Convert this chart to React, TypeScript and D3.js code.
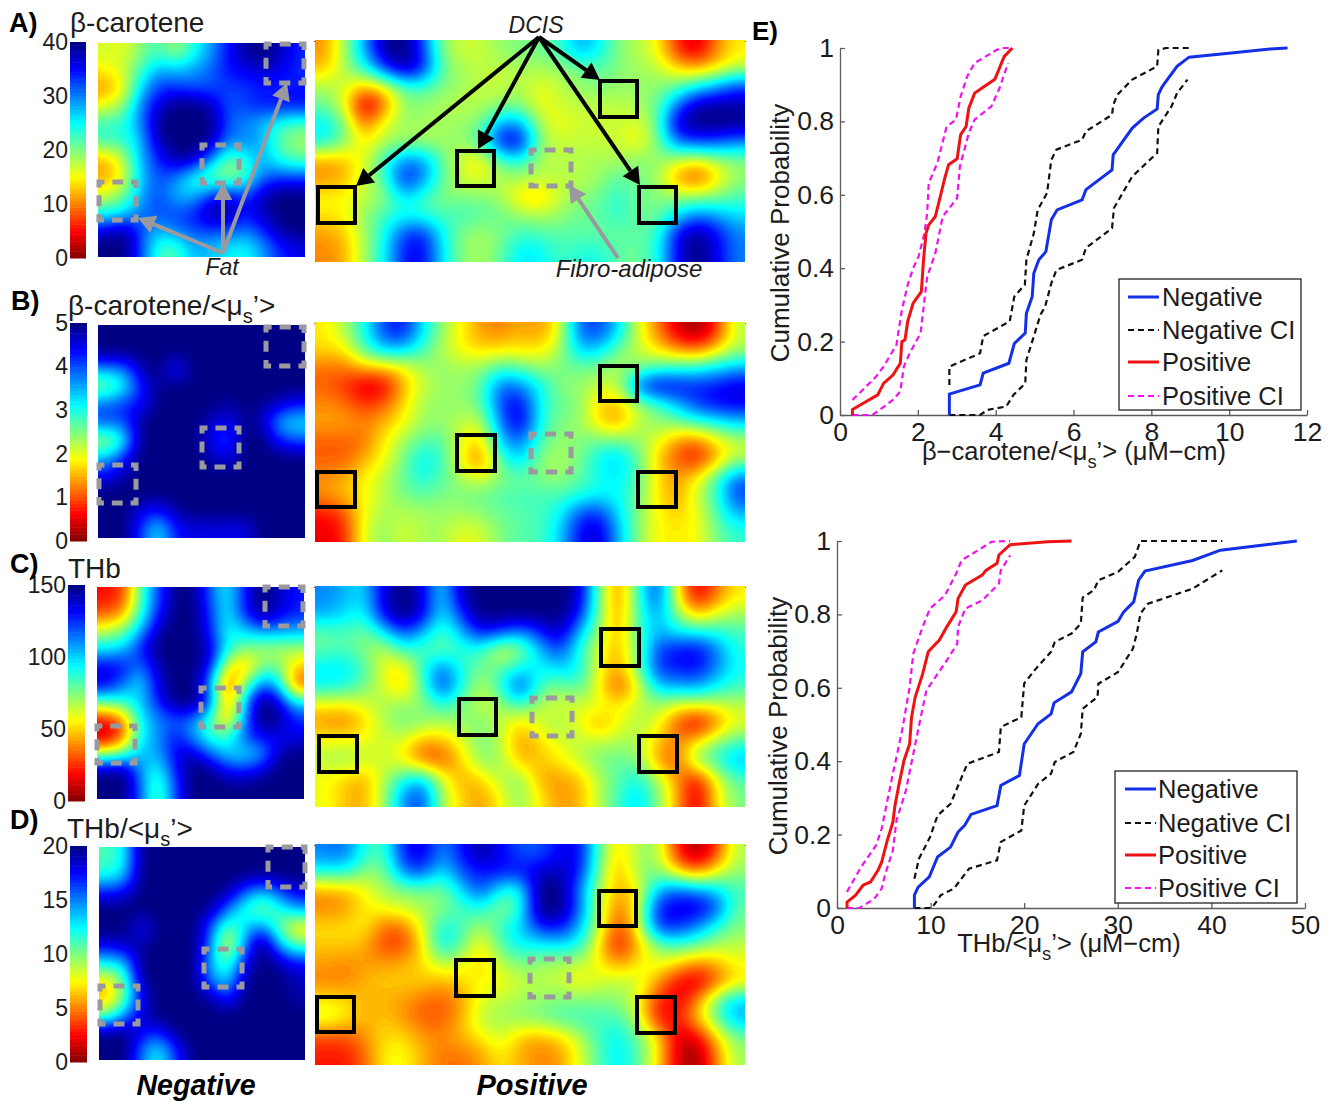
import React, { useEffect, useRef } from 'react';
import * as d3 from 'd3';

// colour levels, 0 = dark red ... 10 = navy (fraction of each colorbar x 10)
const aNeg = [
  [4.2, 4, 5, 5.6, 4.8, 6, 7.2, 8.6, 9.6, 10, 9.5, 8.5],
  [3.7, 4.4, 5.6, 7, 6.8, 7.2, 7.8, 8.6, 9, 9.2, 9, 8.4],
  [2.9, 4, 6.6, 8.2, 8.2, 8, 8, 8.2, 8.2, 8.6, 8.4, 8.6],
  [4, 5, 7.5, 9, 10, 10, 9.5, 8, 8.2, 8.5, 8.6, 8.6],
  [5.6, 6, 7.5, 9.8, 10, 10, 10, 8, 7.4, 7, 6, 5.6],
  [5.6, 5.8, 7, 9.4, 10, 10, 9.6, 7.5, 7.5, 7, 5.5, 4.8],
  [3.2, 4.6, 7, 8.5, 9.6, 9.4, 7.6, 5.4, 6, 7, 6, 5.4],
  [3, 4.2, 6.8, 8, 7.6, 6.2, 5.4, 4.8, 5.6, 7.6, 8, 8],
  [4.2, 5.2, 7, 8, 7, 6.8, 8, 8.6, 8, 9.2, 10, 10],
  [6, 6.5, 7.6, 8, 8, 8.4, 9.6, 9.8, 8.6, 9.4, 10, 10],
  [9, 9.6, 8, 7, 7.6, 8, 8.2, 8, 7.6, 8.4, 9.6, 10],
  [10, 10, 8, 5.8, 5.6, 7, 6.8, 6.5, 6.2, 7.2, 8.4, 9],
];
const aPos = [
  [2.8, 4.6, 7, 9.5, 10, 8.2, 5, 4.3, 4.3, 4.8, 5, 5.2, 5.6, 7, 6.3, 5, 4.5, 3.8, 1.8, 0.9, 2.5, 3.6],
  [3.2, 4.6, 5.9, 8, 9.5, 8.5, 5.4, 4.6, 4.4, 4.4, 4.6, 4.6, 4.8, 5.2, 5.4, 5, 4.6, 4.4, 3.4, 3, 3.6, 4.4],
  [4.5, 4.2, 3.2, 4, 5.6, 5.8, 5, 4.7, 4.4, 4.3, 4.6, 4, 4.4, 4.8, 5, 4.8, 4.8, 4.9, 5.3, 6.2, 7, 8],
  [5.2, 4, 1, 2.3, 4.8, 4.8, 4.6, 4.4, 4.5, 4.9, 5, 3.9, 4.2, 4.4, 4.4, 4.4, 4.6, 5.2, 7.5, 9.3, 9.6, 9.5],
  [6.2, 5, 2.3, 4, 4.7, 4.7, 4.6, 4.8, 5.1, 7, 7, 4.6, 3.9, 4.2, 4.2, 4.3, 4.1, 5.3, 9, 9.8, 9.9, 9.8],
  [6, 5, 3.6, 4.5, 4.8, 4.7, 4.7, 4.8, 5.6, 8.5, 8.7, 5, 4.3, 4.4, 4.3, 4.3, 3.8, 5, 7.5, 8, 8, 7.5],
  [3, 3.2, 4, 5.6, 7.2, 7.2, 5.3, 4.2, 3.8, 5.5, 6, 4.6, 4.4, 4.5, 4.6, 4.6, 4.9, 4.8, 4.4, 3.9, 4.6, 5],
  [2.8, 3.1, 4.3, 5.5, 8.3, 7.4, 5.4, 4.3, 4, 4.6, 4.6, 4.4, 4.4, 4.5, 4.7, 5.4, 5, 4.7, 3, 2.2, 3.5, 4.8],
  [3.7, 3.7, 4.4, 4.8, 6.5, 5.8, 5, 5, 5, 4.6, 3.6, 3.3, 4.3, 4.8, 5.2, 5.8, 5.2, 5, 4.8, 4.9, 5.1, 5.5],
  [3.5, 3.7, 4.8, 5.6, 6.2, 6, 5.6, 5.6, 5.3, 5.2, 4.8, 4.6, 4.8, 5.2, 5.3, 5.8, 5.2, 5.2, 6.5, 7.5, 7.2, 6.6],
  [2.8, 3.2, 4.6, 6, 8, 8.4, 6.3, 5, 4.7, 5, 5.7, 5.5, 5.4, 5.4, 5.3, 5.3, 5.4, 5.8, 8.6, 9.8, 8.8, 7.5],
  [2.6, 3, 4.6, 6.2, 8.4, 8.8, 6.5, 5, 4.6, 5.3, 6.4, 6.3, 5.6, 5.9, 6, 5.4, 5.2, 6, 8.7, 10, 9, 7.6],
];
const bNeg = [
  [10, 10, 10, 10, 10, 10, 10, 10, 10, 10, 10, 10],
  [10, 10, 10, 10, 10, 10, 10, 10, 10, 10, 10, 10],
  [7.2, 7.6, 9.4, 10, 8.6, 10, 10, 10, 10, 10, 10, 10],
  [5.2, 6.4, 8.6, 9.8, 10, 10, 10, 10, 10, 10, 10, 10],
  [7.8, 8.4, 8.8, 10, 10, 10, 10, 9.6, 10, 9.8, 9.2, 8.6],
  [7.8, 8, 9.8, 10, 10, 10, 9.4, 8.8, 9.8, 9.4, 7.2, 6.6],
  [4.8, 6.4, 10, 10, 10, 10, 9, 8.2, 10, 10, 8.6, 8],
  [7, 8.6, 10, 10, 10, 10, 9.6, 9, 10, 10, 10, 10],
  [8.8, 9.6, 10, 10, 10, 10, 10, 10, 10, 10, 10, 10],
  [10, 10, 10, 10, 10, 10, 10, 10, 10, 10, 10, 10],
  [10, 10, 9, 8.6, 9.6, 10, 10, 10, 10, 10, 10, 10],
  [10, 10, 8.2, 6.6, 8.6, 9, 9, 9, 9, 10, 10, 10],
];
const bPos = [
  [3.6, 4.5, 6, 8, 8.5, 6.5, 4.8, 3.7, 2.8, 2.6, 3, 2.8, 4, 7.6, 8, 6.6, 4.2, 2.6, 1, 0.4, 1.6, 4.3],
  [3.4, 3.6, 5.4, 6.6, 6.6, 5.6, 4.5, 3.8, 3.4, 3.6, 3.6, 3.6, 4.6, 6.6, 6.6, 5.2, 4.4, 3.6, 2.8, 2.4, 3.4, 4.6],
  [2.4, 2.4, 3, 3.2, 3.8, 4.6, 4.8, 4.6, 4.8, 5.6, 5.4, 4.8, 5, 5.2, 5, 4.6, 5, 5.6, 5.8, 6, 6.4, 7],
  [2.2, 1.8, 1, 1.2, 3, 4.3, 4.7, 4.8, 5.4, 7.6, 7.4, 6.2, 5, 4.8, 4.4, 4.3, 7.6, 8.8, 8.6, 8.4, 8.6, 9],
  [2.6, 2.4, 1.8, 2.2, 3.4, 4.6, 4.8, 4.8, 5.3, 8, 8.8, 6.2, 5.2, 5, 3.4, 3.2, 4.6, 5.6, 6.8, 8, 8.6, 8.8],
  [2.8, 2.8, 2.5, 3, 3.8, 4.7, 4.8, 4.4, 4.4, 7.4, 9, 6.2, 5, 4.8, 3.6, 3, 4.4, 4.8, 5, 5.6, 6, 6.6],
  [2.2, 2.2, 2.4, 3.6, 4.6, 5.4, 5.4, 4, 3.4, 6.8, 7.6, 5.6, 4.8, 5, 5.2, 5.2, 4.8, 4, 2.8, 2.4, 3.6, 4.4],
  [2.2, 2.2, 3, 3.8, 5, 6.3, 5.6, 3.8, 2.6, 5.5, 6.6, 5, 4.6, 5, 6.2, 6.6, 5.4, 3.4, 2.2, 1.6, 3, 4.6],
  [2.6, 3, 3.6, 4.4, 5.2, 6, 5.4, 4.6, 4, 5, 5.3, 5, 4.8, 5.4, 6, 6.4, 5.4, 3.6, 2.8, 3.6, 5.4, 7.5],
  [2.6, 3, 3.7, 4.4, 5, 5.3, 5, 5, 5.2, 5.4, 5.6, 5.6, 5.6, 6, 6.4, 6.2, 5.2, 3.6, 2.8, 4.2, 5.6, 8],
  [1.4, 2, 3.8, 4.6, 4.4, 4.6, 4.7, 4.6, 4.8, 5.2, 5.4, 5.6, 6.2, 8, 8.4, 6.6, 5, 3.8, 3.4, 3.8, 5.4, 6.8],
  [1.1, 1.6, 4, 4.8, 4.2, 4.6, 4.6, 4, 4.2, 5, 5.4, 5.6, 6.6, 8.6, 9.2, 7, 5, 3.8, 3.6, 3.8, 5, 5.8],
];
const cNeg = [
  [1.4, 2, 5.4, 8, 9.8, 10, 8, 6.4, 8.4, 10, 9.4, 8.6],
  [2.2, 3, 5.8, 8.4, 10, 10, 8.4, 6.4, 8.2, 9.8, 9, 8.4],
  [4.4, 5.2, 7, 9.4, 10, 10, 8.6, 6.2, 6.6, 7.2, 7.2, 7],
  [6.4, 6.8, 8.4, 10, 10, 10, 9.2, 6.2, 5, 4.8, 4.6, 4.6],
  [8.8, 8.6, 7.6, 9.4, 10, 10, 8.8, 4.2, 3.2, 5, 5.2, 3.4],
  [8.8, 7.6, 6.6, 9, 10, 10, 7.4, 2.4, 4.6, 7.4, 6.6, 2.4],
  [5.4, 5.8, 6.8, 8.4, 10, 10, 8.2, 2.8, 6.5, 10, 9, 6.4],
  [1.6, 2.8, 6.2, 7.4, 8, 7.6, 5.8, 3.2, 7, 10, 9.8, 8.4],
  [1, 2.4, 6.2, 7.2, 8.6, 7.4, 6, 5.8, 7.8, 8.8, 8.8, 9],
  [5, 5.8, 7, 7, 8.8, 9.4, 8, 6.8, 6.6, 7.2, 9.4, 10],
  [10, 10, 7.4, 6, 8.4, 10, 10, 9, 8.8, 9.4, 10, 10],
  [10, 10, 7.8, 5.4, 8, 10, 10, 10, 10, 10, 10, 10],
];
const cPos = [
  [7.4, 7, 6.6, 9, 10, 9, 6.6, 9.4, 10, 10, 10, 10, 10, 9.2, 5.4, 2.6, 5.6, 8, 4, 1.2, 2.4, 3.6],
  [7, 6.6, 6.2, 8.8, 10, 9, 6.4, 8.4, 10, 10, 10, 10, 10, 8.6, 5.2, 2.8, 5.4, 7.2, 5, 3.2, 4, 4.6],
  [5.4, 5.6, 5.2, 6.4, 8, 7, 5.6, 7, 8.6, 8, 7.4, 8.4, 9.4, 7, 4.8, 3, 5.4, 7, 6.4, 6.2, 6, 5.6],
  [5.4, 5.6, 5, 4.4, 5.6, 5.6, 5.4, 5.8, 5.8, 4.2, 5, 6.8, 8, 6, 4.2, 3, 5, 8, 8.6, 8.8, 7.6, 6],
  [6.4, 6.4, 5.6, 4, 3.6, 5.8, 7.6, 6, 5.2, 5.4, 6.4, 6.2, 6.6, 6.2, 4, 2.8, 5, 8, 8.4, 8.6, 7.4, 6.2],
  [6, 5.8, 5, 4.2, 3.4, 5.4, 8, 6, 4.4, 5.8, 8, 5.6, 5, 5.4, 3.8, 2.2, 3.8, 6.6, 6.8, 7, 6.2, 5.6],
  [3.6, 3.6, 4, 4.6, 4.8, 4.8, 5.8, 5, 4.4, 4.6, 5.6, 4.4, 4.2, 4.2, 4, 3.6, 4.4, 4.6, 4, 3.8, 4, 4.4],
  [2.8, 2.6, 3.4, 4.4, 5, 4.8, 4.4, 4.8, 5, 4.4, 3.4, 4.2, 4.6, 4, 3, 3.8, 4.4, 4, 2.2, 1.2, 2.6, 4],
  [4, 4, 4, 4.2, 4, 2.8, 3, 3.9, 5, 4.4, 2.8, 3.4, 4, 4.4, 4.4, 4.6, 4.6, 3.2, 2.6, 3.6, 4.8, 5.6],
  [4.4, 4.6, 4.2, 4.2, 3.8, 2.6, 2.2, 3.4, 4.8, 4.6, 3.2, 3.2, 3.6, 4.2, 5, 5.2, 5, 3, 2.2, 4.6, 5.6, 6.8],
  [3.8, 3.4, 3, 4.4, 6, 6.6, 4.2, 3, 3.4, 4.4, 4.8, 3, 2.8, 3.2, 4.4, 5.4, 6, 4.6, 2.8, 1.4, 3.8, 5.4],
  [3.9, 3.2, 3, 4.6, 7.2, 8, 4.6, 3.4, 2.8, 3.8, 4.8, 3.6, 2.8, 3, 4.4, 5.6, 6.6, 5, 3, 1, 3.4, 5],
];
const dNeg = [
  [5.6, 6.4, 10, 10, 10, 10, 10, 10, 10, 10, 10, 10],
  [6, 6.8, 10, 10, 10, 10, 10, 10, 10, 10, 10, 10],
  [8.4, 8.8, 10, 10, 10, 10, 10, 9.6, 8, 7, 8, 9],
  [10, 10, 10, 10, 10, 10, 9.6, 7.6, 6, 5.2, 6, 7],
  [10, 10, 8.8, 10, 10, 10, 8, 5.4, 6.6, 7.4, 5.4, 3.8],
  [9, 9.4, 9.6, 10, 10, 10, 7.6, 4, 7.4, 10, 7, 5.4],
  [6.4, 7, 10, 10, 10, 10, 7, 5.6, 8.6, 10, 9.4, 8.6],
  [3.8, 5.6, 9.6, 10, 10, 10, 7.6, 6.6, 9.6, 10, 10, 9.4],
  [3.2, 5.4, 8.8, 10, 10, 10, 9.6, 8.4, 10, 10, 10, 9.6],
  [5.4, 7.4, 9.2, 10, 10, 10, 10, 10, 10, 10, 10, 10],
  [10, 10, 8.8, 8.4, 9.8, 10, 10, 10, 10, 10, 10, 10],
  [10, 10, 7.6, 6.4, 8.4, 10, 10, 10, 10, 10, 10, 10],
];
const dPos = [
  [7.4, 7.6, 6, 5.6, 8.4, 9, 7.4, 8.6, 9.6, 8.8, 8, 8, 8.8, 8.8, 5.6, 3.4, 4.6, 4.6, 1.8, 0.5, 1.8, 4.4],
  [6, 6, 5, 5, 7.4, 8, 6.4, 8, 8.6, 8.6, 8.6, 9.2, 9.4, 8.6, 5.2, 3, 4.6, 5, 3.6, 2.6, 3.8, 4.8],
  [3, 3.2, 3.8, 4.6, 5, 5.2, 5.2, 6.6, 8, 6.2, 6.2, 10, 10, 7.6, 4.8, 3, 3.8, 6.8, 7.6, 7.2, 6.6, 5.6],
  [2.6, 2.8, 3.6, 3.8, 4.2, 4.6, 5, 5.6, 6, 5, 6, 10, 10, 7.8, 4.6, 2.4, 4, 8.2, 9, 9, 8, 5.4],
  [3.4, 3.4, 3.6, 2.4, 2.4, 4, 6, 5.6, 4.6, 5.8, 6.6, 8.4, 8.6, 7, 4.4, 2, 3.8, 8, 8.2, 7.4, 6, 5],
  [3.2, 3.2, 3, 2, 2, 3.6, 6.2, 5.2, 3.7, 5.4, 6.2, 6.2, 6.4, 6, 3.6, 1.5, 3, 5, 5.6, 5.2, 4.6, 4.4],
  [2.8, 2.6, 2.8, 2.8, 3, 3.4, 4.4, 4, 3.4, 4.4, 5, 4.8, 4.6, 4.4, 3.8, 2.8, 3.6, 4, 3.4, 2.6, 3, 3.8],
  [2.6, 2.6, 3, 3.2, 3.2, 3.2, 3, 3.4, 3.8, 3.8, 4.4, 4.4, 4.4, 3.8, 4.2, 4.4, 4.2, 2.8, 1.4, 1, 2.2, 3.6],
  [3.6, 3.4, 3, 3, 2.8, 2.4, 2.2, 2.8, 4, 4.4, 4.6, 4.8, 5, 5, 5, 4.8, 4, 1.8, 1.2, 2.4, 5, 6.6],
  [4, 3.6, 3, 3.2, 2.8, 2.2, 2.2, 3, 4.4, 4.6, 4.8, 5, 5.4, 5.6, 5.6, 5.6, 4.4, 1.6, 1.4, 3, 5, 6.8],
  [2, 2, 2.6, 3.4, 3.4, 2.8, 2.6, 3, 3.6, 4.2, 3.2, 3, 3.4, 4.4, 5.6, 6.2, 5.2, 3.6, 1, 1, 3.2, 5],
  [1.5, 1.5, 2.2, 3.6, 3.8, 3, 2.4, 2.4, 2.8, 3.6, 3, 2.6, 2.8, 4, 5.4, 6.4, 5.4, 3.6, 1, 0.3, 2.4, 4.6],
];

// CDF curves, top plot (beta-carotene/mus)
const bcNeg = [[2.81, 0], [2.81, 0.057], [3.6, 0.082], [3.68, 0.114], [4.34, 0.141], [4.48, 0.195], [4.76, 0.223], [4.79, 0.277], [4.94, 0.323], [4.98, 0.386], [5.11, 0.423], [5.29, 0.445], [5.43, 0.532], [5.58, 0.559], [6.22, 0.586], [6.32, 0.614], [6.99, 0.668], [7.02, 0.709], [7.51, 0.782], [7.8, 0.809], [8.15, 0.834], [8.18, 0.873], [8.28, 0.895], [8.66, 0.95], [8.97, 0.975], [9.99, 0.986], [11.05, 0.997], [11.5, 1]];
const bcNegHi = [[2.81, 0.082], [2.81, 0.132], [3.6, 0.168], [3.68, 0.215], [4.36, 0.255], [4.48, 0.323], [4.75, 0.355], [4.79, 0.423], [4.98, 0.495], [5.08, 0.559], [5.32, 0.605], [5.43, 0.695], [5.56, 0.723], [6.22, 0.75], [6.32, 0.773], [6.99, 0.818], [7.02, 0.845], [7.13, 0.873], [7.51, 0.914], [8.15, 0.95], [8.18, 0.994], [8.37, 1], [8.97, 1]];
const bcNegLo = [[2.81, 0], [3.6, 0], [3.79, 0.014], [4.27, 0.023], [4.46, 0.055], [4.76, 0.086], [4.79, 0.15], [4.98, 0.214], [5.15, 0.273], [5.27, 0.295], [5.43, 0.359], [5.56, 0.395], [6.22, 0.423], [6.32, 0.455], [6.99, 0.509], [7.04, 0.564], [7.51, 0.65], [8.15, 0.714], [8.18, 0.786], [8.52, 0.841], [8.66, 0.877], [8.93, 0.914]];
const bcPos = [[0.32, 0], [0.32, 0.015], [0.97, 0.055], [1.12, 0.086], [1.36, 0.109], [1.55, 0.141], [1.59, 0.2], [1.67, 0.205], [1.74, 0.255], [1.88, 0.305], [2.09, 0.336], [2.15, 0.427], [2.21, 0.495], [2.28, 0.518], [2.45, 0.541], [2.6, 0.605], [2.69, 0.645], [2.79, 0.682], [3.01, 0.698], [3.1, 0.764], [3.24, 0.786], [3.31, 0.836], [3.46, 0.877], [3.65, 0.891], [3.98, 0.915], [4.22, 0.977], [4.43, 1]];
const bcPosHi = [[0.32, 0.041], [0.93, 0.105], [1.12, 0.132], [1.45, 0.191], [1.59, 0.286], [1.74, 0.355], [1.88, 0.4], [2.02, 0.432], [2.17, 0.495], [2.24, 0.55], [2.28, 0.632], [2.5, 0.686], [2.74, 0.786], [2.98, 0.805], [3.1, 0.868], [3.27, 0.923], [3.46, 0.959], [4.03, 0.995], [4.17, 1], [4.43, 1]];
const bcPosLo = [[0.32, 0], [0.83, 0], [1.02, 0.014], [1.36, 0.041], [1.55, 0.064], [1.64, 0.132], [1.79, 0.168], [2.07, 0.223], [2.24, 0.377], [2.45, 0.441], [2.64, 0.541], [3.01, 0.591], [3.08, 0.677], [3.31, 0.768], [3.46, 0.805], [3.89, 0.841], [4.1, 0.891], [4.32, 0.959]];

// CDF curves, bottom plot (THb/mus)
const thbNeg = [[8.27, 0], [8.27, 0.035], [8.67, 0.057], [9.86, 0.085], [10.74, 0.139], [12.13, 0.166], [12.93, 0.207], [13.64, 0.225], [14.32, 0.255], [17.1, 0.279], [17.5, 0.334], [19.49, 0.361], [20, 0.447], [21.48, 0.502], [22.87, 0.529], [23.19, 0.559], [25.06, 0.589], [26.05, 0.639], [26.25, 0.698], [27.65, 0.725], [27.92, 0.752], [30.03, 0.781], [30.63, 0.807], [31.7, 0.834], [32.22, 0.893], [32.9, 0.918], [37.99, 0.947], [40.97, 0.975], [45.15, 0.988], [49.13, 1]];
const thbNegHi = [[8.27, 0.08], [8.75, 0.134], [9.94, 0.193], [10.74, 0.252], [12.13, 0.284], [13.92, 0.393], [17.3, 0.425], [17.5, 0.493], [19.69, 0.52], [20, 0.612], [21.28, 0.653], [22.87, 0.698], [23.27, 0.725], [25.06, 0.748], [26.05, 0.775], [26.25, 0.846], [27.45, 0.866], [27.92, 0.893], [30.03, 0.916], [31.82, 0.957], [32.42, 1], [41.17, 1]];
const thbNegLo = [[8.27, 0], [10.14, 0], [11.09, 0.035], [12.49, 0.053], [14.1, 0.107], [17.1, 0.13], [17.5, 0.18], [19.69, 0.211], [20, 0.279], [21.48, 0.338], [22.87, 0.366], [23.27, 0.398], [25.26, 0.425], [26.05, 0.475], [26.25, 0.543], [27.84, 0.575], [27.92, 0.611], [30.03, 0.643], [31.62, 0.707], [32.02, 0.747], [32.42, 0.802], [33.22, 0.829], [37.99, 0.87], [41.17, 0.92]];
const thbPos = [[1.07, 0], [1.07, 0.016], [1.99, 0.035], [2.78, 0.062], [3.58, 0.071], [4.38, 0.103], [4.77, 0.125], [5.37, 0.184], [5.97, 0.234], [6.17, 0.275], [6.56, 0.329], [7.16, 0.402], [7.76, 0.447], [7.96, 0.519], [8.35, 0.574], [9.15, 0.638], [9.75, 0.698], [10.94, 0.73], [11.73, 0.766], [12.73, 0.807], [12.93, 0.843], [13.72, 0.88], [15.51, 0.907], [15.91, 0.92], [17.1, 0.939], [17.3, 0.962], [18.5, 0.99], [22.48, 0.998], [25.06, 1]];
const thbPosHi = [[1.07, 0.044], [2.58, 0.112], [4.18, 0.171], [4.77, 0.216], [5.97, 0.366], [6.96, 0.484], [7.76, 0.602], [8.15, 0.693], [9.15, 0.766], [9.94, 0.816], [11.53, 0.852], [12.73, 0.911], [13.32, 0.948], [14.52, 0.966], [16.51, 0.998], [18.5, 1]];
const thbPosLo = [[1.07, 0], [2.39, 0], [3.98, 0.025], [4.77, 0.053], [5.17, 0.094], [5.97, 0.157], [6.36, 0.239], [7.36, 0.32], [8.15, 0.42], [8.95, 0.52], [9.55, 0.593], [11.73, 0.675], [12.85, 0.72], [12.93, 0.766], [13.72, 0.816], [15.51, 0.838], [17.3, 0.884], [17.5, 0.92], [18.5, 0.961]];

const legendLabels = ['Negative', 'Negative CI', 'Positive', 'Positive CI'];
const FONT = '"Liberation Sans", Arial, sans-serif';
const TEXT = '#1c1c1c';

const jet = d3.scaleLinear<string>()
  .domain([0, 1.25, 3.75, 6.25, 8.75, 10])
  .range(['#800000', '#ff0000', '#ffff00', '#00ffff', '#0000ff', '#000080'])
  .clamp(true);

// one row of the figure: colorbar, negative map, positive map, and their squares
const rows = [
  {
    letter: 'A)', letterPos: [9, 32], title: ['β-carotene'], titlePos: [70, 32], max: 40, ticks: [0, 10, 20, 30, 40],
    bar: [70, 42, 86, 258], neg: [98.5, 43, 305, 257], pos: [315, 40, 745, 262], negGrid: aNeg, posGrid: aPos,
    negDash: [[99, 182, 136, 220], [202, 145, 239, 183], [266, 44, 304, 83]],
    solid: [[318, 187, 355, 223], [457, 151, 494, 186], [600, 81, 637, 117], [639, 187, 676, 223]],
    posDash: [531, 150, 571, 186],
  },
  {
    letter: 'B)', letterPos: [11, 310], title: ['β-carotene/<μ', 's', '’>'], titlePos: [68, 315], max: 5, ticks: [0, 1, 2, 3, 4, 5],
    bar: [70, 323, 87, 541], neg: [98.5, 325, 305, 538], pos: [315, 322, 745, 542], negGrid: bNeg, posGrid: bPos,
    negDash: [[99, 465, 136, 503], [202, 428, 239, 467], [266, 327, 304, 366]],
    solid: [[317, 472, 355, 507], [457, 435, 495, 471], [600, 366, 637, 401], [638, 472, 676, 507]],
    posDash: [531, 434, 571, 472],
  },
  {
    letter: 'C)', letterPos: [10, 573], title: ['THb'], titlePos: [68, 578], max: 150, ticks: [0, 50, 100, 150],
    bar: [68, 585, 85, 801], neg: [97.5, 587, 304, 799], pos: [315, 586, 745, 807], negGrid: cNeg, posGrid: cPos,
    negDash: [[97, 726, 135, 763], [201, 688, 239, 727], [265, 587, 303, 626]],
    solid: [[319, 736, 357, 772], [459, 699, 496, 735], [601, 629, 639, 666], [639, 736, 677, 772]],
    posDash: [532, 698, 572, 736],
  },
  {
    letter: 'D)', letterPos: [10, 829], title: ['THb/<μ', 's', '’>'], titlePos: [67, 838], max: 20, ticks: [0, 5, 10, 15, 20],
    bar: [70, 846, 87, 1062], neg: [99, 847, 305, 1060], pos: [315, 844, 745, 1065], negGrid: dNeg, posGrid: dPos,
    negDash: [[100, 986, 138, 1024], [204, 949, 242, 987], [268, 847, 305, 887]],
    solid: [[317, 997, 354, 1032], [456, 960, 494, 996], [599, 891, 636, 926], [637, 997, 675, 1033]],
    posDash: [530, 959, 569, 997],
  },
];

const plots = [
  {
    xMax: 12, xTicks: [0, 2, 4, 6, 8, 10, 12], box: [840, 48, 1307, 415], tickBase: 26, yPad: 6,
    series: [bcNegHi, bcNegLo, bcPosHi, bcPosLo, bcNeg, bcPos],
    label: ['β−carotene/<μ', 's', '’> (μM−cm)'], labelPos: [1074, 460], yLabelPos: [789, 233],
    legend: [1119, 279, 1301, 410], legendLine: [1128, 1159], legendText: 1162, legendY: [297, 330, 362, 396],
  },
  {
    xMax: 50, xTicks: [0, 10, 20, 30, 40, 50], box: [837, 541, 1305, 908], tickBase: 26, yPad: 6,
    series: [thbNegHi, thbNegLo, thbPosHi, thbPosLo, thbNeg, thbPos],
    label: ['THb/<μ', 's', '’> (μM−cm)'], labelPos: [1069, 952], yLabelPos: [787, 726],
    legend: [1115, 771, 1297, 903], legendLine: [1125, 1156], legendText: 1158, legendY: [789, 823, 855, 888],
  },
];

// black arrows (DCIS), grey arrows (Fat, Fibro-adipose)
const blackArrows = [[539, 37, 356, 186], [539, 37, 478, 149], [539, 37, 600, 80], [539, 37, 640, 185]];
const greyArrows = [[223, 253, 138, 218], [223, 253, 223, 183], [223, 253, 287, 83], [618, 258, 569, 185]];
const notes = [
  { text: 'DCIS', x: 536, y: 33, size: 23 },
  { text: 'Fat', x: 222, y: 275, size: 23 },
  { text: 'Fibro-adipose', x: 629, y: 277, size: 24 },
];

// smooth the coarse level grid so the contours come out round like the imaging maps
const upsample = (grid: number[][], k: number) => {
  const nr = grid.length, nc = grid[0].length;
  const at = (r: number, c: number) => grid[Math.max(0, Math.min(nr - 1, r))][Math.max(0, Math.min(nc - 1, c))];
  const cr = (a: number, b: number, c: number, d: number, t: number) =>
    0.5 * (2 * b + (c - a) * t + (2 * a - 5 * b + 4 * c - d) * t * t + (3 * b - a - 3 * c + d) * t * t * t);
  const W = nc * k, H = nr * k;
  const out = new Array(W * H);
  for (let j = 0; j < H; j++) {
    const v = (j + 0.5) / k - 0.5, r0 = Math.floor(v), ty = v - r0;
    for (let i = 0; i < W; i++) {
      const u = (i + 0.5) / k - 0.5, c0 = Math.floor(u), tx = u - c0;
      const col = [-1, 0, 1, 2].map(dr =>
        cr(at(r0 + dr, c0 - 1), at(r0 + dr, c0), at(r0 + dr, c0 + 1), at(r0 + dr, c0 + 2), tx));
      out[i + j * W] = Math.max(0, Math.min(10, cr(col[0], col[1], col[2], col[3], ty)));
    }
  }
  d3.blur2({ data: out, width: W, height: H }, 3);
  return { values: out, W, H };
};

const drawMap = (g: any, grid: number[][], box: number[]) => {
  const [x0, y0, x1, y1] = box;
  const { values, W, H } = upsample(grid, 8);
  const sx = (x1 - x0) / W, sy = (y1 - y0) / H;
  const path = d3.geoPath(d3.geoTransform({
    point(this: any, x: number, y: number) { this.stream.point(x0 + x * sx, y0 + y * sy); },
  }));
  const levels = d3.range(0.1, 10, 0.1);
  g.append('rect').attr('x', x0).attr('y', y0).attr('width', x1 - x0).attr('height', y1 - y0).attr('fill', jet(d3.min(values)));
  g.append('g').selectAll('path')
    .data(d3.contours().size([W, H]).smooth(true).thresholds(levels)(values))
    .enter().append('path')
    .attr('d', (d: any) => path(d))
    .attr('fill', (d: any) => jet(d.value + 0.05));
};

const drawSquare = (g: any, b: number[], dashed: boolean) => {
  const r = g.append('rect').attr('x', b[0]).attr('y', b[1]).attr('width', b[2] - b[0]).attr('height', b[3] - b[1])
    .attr('fill', 'none');
  if (dashed) {
    r.attr('stroke', '#9a9a9e').attr('stroke-width', 5).attr('pathLength', 8)
      .attr('stroke-dasharray', '0.58 0.42').attr('stroke-dashoffset', 0.29);
  } else {
    r.attr('stroke', '#000').attr('stroke-width', 4);
  }
};

const drawArrow = (g: any, a: number[], color: string, width: number, head: number) => {
  const [x0, y0, x1, y1] = a;
  const ang = Math.atan2(y1 - y0, x1 - x0);
  const bx = x1 - head * Math.cos(ang), by = y1 - head * Math.sin(ang);
  const nx = -Math.sin(ang) * head * 0.55, ny = Math.cos(ang) * head * 0.55;
  g.append('line').attr('x1', x0).attr('y1', y0).attr('x2', bx).attr('y2', by)
    .attr('stroke', color).attr('stroke-width', width);
  g.append('polygon').attr('fill', color)
    .attr('points', `${x1},${y1} ${bx + nx},${by + ny} ${bx - nx},${by - ny}`);
};

// text with a subscript part: [before, sub, after]
const addLabel = (g: any, parts: string[], x: number, y: number, size: number, anchor = 'start') => {
  const t = g.append('text').attr('x', x).attr('y', y).attr('font-size', size).attr('text-anchor', anchor)
    .attr('fill', TEXT).attr('font-family', FONT);
  t.append('tspan').text(parts[0]);
  if (parts.length > 1) {
    t.append('tspan').attr('dy', size * 0.3).attr('font-size', size * 0.72).text(parts[1]);
    t.append('tspan').attr('dy', -size * 0.3).text(parts[2]);
  }
  return t;
};

const drawColorbar = (g: any, row: any) => {
  const [x0, y0, x1, y1] = row.bar;
  const y = d3.scaleLinear().domain([0, row.max]).range([y1, y0]);
  const steps = d3.range(0, 64);
  g.append('g').selectAll('rect').data(steps).enter().append('rect')
    .attr('x', x0).attr('width', x1 - x0)
    .attr('y', (d: number) => y(((d + 1) / 64) * row.max))
    .attr('height', (y1 - y0) / 64 + 0.5)
    .attr('fill', (d: number) => jet(((d + 0.5) / 64) * 10));
  const axis = g.append('g').attr('transform', `translate(${x0},0)`)
    .call(d3.axisLeft(y).tickValues(row.ticks).tickSize(0).tickPadding(2).tickFormat((d: any) => String(d)));
  axis.select('.domain').remove();
  axis.selectAll('text').attr('font-size', 23).attr('font-family', FONT).attr('fill', TEXT);
};

const drawPlot = (g: any, p: any) => {
  const [x0, y0, x1, y1] = p.box;
  const x = d3.scaleLinear().domain([0, p.xMax]).range([x0, x1]);
  const y = d3.scaleLinear().domain([0, 1]).range([y1, y0]);
  const line = d3.line<number[]>().x(d => x(d[0])).y(d => y(d[1]));

  const styleAxis = (a: any) => {
    a.selectAll('path,line').attr('stroke', '#5c5c5c').attr('stroke-width', 1.3);
    a.selectAll('text').attr('font-size', 26.5).attr('font-family', FONT).attr('fill', TEXT);
  };
  const xa = g.append('g').attr('transform', `translate(0,${y1})`)
    .call(d3.axisBottom(x).tickValues(p.xTicks).tickSizeInner(-5).tickSizeOuter(0).tickPadding(p.tickBase - 19).tickFormat((d: any) => String(d)));
  styleAxis(xa);
  const ya = g.append('g').attr('transform', `translate(${x0},0)`)
    .call(d3.axisLeft(y).tickValues([0, 0.2, 0.4, 0.6, 0.8, 1]).tickSizeInner(-5).tickSizeOuter(0).tickPadding(p.yPad).tickFormat((d: any) => String(d)));
  styleAxis(ya);

  const styles = [
    { c: '#111', w: 2.2, dash: '6 4' }, { c: '#111', w: 2.2, dash: '6 4' },
    { c: '#f010f0', w: 2.2, dash: '6 4' }, { c: '#f010f0', w: 2.2, dash: '6 4' },
    { c: '#1430e6', w: 3, dash: null }, { c: '#ee1212', w: 3, dash: null },
  ];
  p.series.forEach((s: number[][], i: number) => {
    g.append('path').attr('d', line(s)).attr('fill', 'none')
      .attr('stroke', styles[i].c).attr('stroke-width', styles[i].w)
      .attr('stroke-dasharray', styles[i].dash);
  });

  addLabel(g, ['Cumulative Probability'], 0, 0, 26, 'middle')
    .attr('transform', `translate(${p.yLabelPos[0]},${p.yLabelPos[1]}) rotate(-90)`);
  addLabel(g, p.label, p.labelPos[0], p.labelPos[1], 25.5, 'middle');

  const [lx0, ly0, lx1, ly1] = p.legend;
  g.append('rect').attr('x', lx0).attr('y', ly0).attr('width', lx1 - lx0).attr('height', ly1 - ly0)
    .attr('fill', '#fff').attr('stroke', '#222').attr('stroke-width', 1.3);
  const legendStyle = [styles[4], styles[0], styles[5], styles[2]];
  legendLabels.forEach((name, i) => {
    g.append('line').attr('x1', p.legendLine[0]).attr('x2', p.legendLine[1])
      .attr('y1', p.legendY[i]).attr('y2', p.legendY[i])
      .attr('stroke', legendStyle[i].c).attr('stroke-width', legendStyle[i].w)
      .attr('stroke-dasharray', legendStyle[i].dash);
    addLabel(g, [name], p.legendText, p.legendY[i] + 9, 25.5);
  });
};

const App = () => {
  const ref = useRef<SVGSVGElement>(null);

  useEffect(() => {
    const svg = d3.select(ref.current);
    svg.selectAll('*').remove();

    rows.forEach(row => {
      drawColorbar(svg, row);
      drawMap(svg, row.negGrid, row.neg);
      drawMap(svg, row.posGrid, row.pos);
    });

    // squares and arrows go on top of the maps
    rows.forEach(row => {
      row.negDash.forEach(b => drawSquare(svg, b, true));
      drawSquare(svg, row.posDash, true);
      row.solid.forEach(b => drawSquare(svg, b, false));
      addLabel(svg, [row.letter], row.letterPos[0], row.letterPos[1], 27).attr('font-weight', 'bold').attr('fill', '#000');
      addLabel(svg, row.title, row.titlePos[0], row.titlePos[1], 28);
    });
    blackArrows.forEach(a => drawArrow(svg, a, '#000', 4, 17));
    greyArrows.forEach(a => drawArrow(svg, a, '#9a9a9e', 4, 17));
    notes.forEach(n => addLabel(svg, [n.text], n.x, n.y, n.size, 'middle').attr('font-style', 'italic'));

    addLabel(svg, ['Negative'], 196, 1095, 28.6, 'middle').attr('font-weight', 'bold').attr('font-style', 'italic').attr('fill', '#000');
    addLabel(svg, ['Positive'], 532, 1095, 29, 'middle').attr('font-weight', 'bold').attr('font-style', 'italic').attr('fill', '#000');
    addLabel(svg, ['E)'], 752, 40, 26).attr('font-weight', 'bold').attr('fill', '#000');

    plots.forEach(p => drawPlot(svg, p));
  }, []);

  return (
    <svg ref={ref} width={1330} height={1102}
      style={{ position: 'absolute', left: 0, top: 0, background: '#fff' }} />
  );
};

export default App;
